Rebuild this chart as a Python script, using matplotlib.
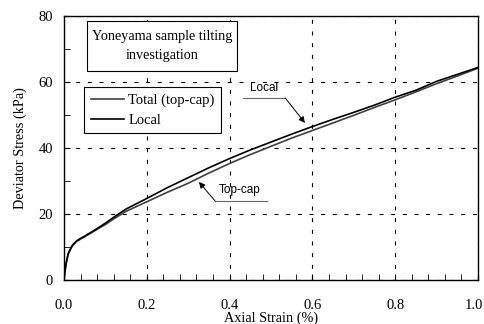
import matplotlib
matplotlib.use("Agg")
import matplotlib.pyplot as plt
from matplotlib.patches import Rectangle
from matplotlib.ticker import MultipleLocator

strain = [0, 0.002, 0.005, 0.01, 0.015, 0.02, 0.03, 0.04, 0.05, 0.07,
          0.1, 0.12, 0.15, 0.2, 0.25, 0.3, 0.35, 0.4, 0.45, 0.5,
          0.55, 0.6, 0.65, 0.7, 0.75, 0.8, 0.85, 0.9, 0.95, 1.0]
local = [0, 2.5, 5.0, 8.0, 9.3, 10.5, 11.8, 12.6, 13.3, 14.8,
         17.2, 19.0, 21.5, 24.7, 28.0, 31.0, 34.0, 36.8, 39.4, 41.8,
         44.2, 46.5, 48.7, 50.8, 53.0, 55.4, 57.5, 60.2, 62.3, 64.4]
total = [0, 2.3, 4.8, 7.8, 9.1, 10.3, 11.6, 12.4, 13.1, 14.6,
         16.8, 18.5, 20.8, 23.7, 26.6, 29.3, 32.4, 35.3, 38.0, 40.5,
         43.0, 45.3, 47.6, 49.9, 52.3, 54.6, 57.0, 59.5, 61.8, 64.2]

plt.rcParams['font.family'] = ['Liberation Serif', 'DejaVu Serif']

fig = plt.figure(figsize=(4.85, 3.24), dpi=100)
ax = fig.add_axes([0.132, 0.136, 0.8536, 0.8146])

ax.plot(strain, total, color='0.25', lw=1.2, label='Total (top-cap)')
ax.plot(strain, local, color='black', lw=1.2, label='Local')

ax.set_xlim(0, 1.0)
ax.set_ylim(0, 80)
ax.xaxis.set_major_locator(MultipleLocator(0.2))
ax.xaxis.set_minor_locator(MultipleLocator(0.04))
ax.yaxis.set_major_locator(MultipleLocator(20))
ax.yaxis.set_minor_locator(MultipleLocator(10))
# the last label (1.0) is drawn by hand, nudged left so it stays inside the figure
ax.xaxis.set_major_formatter(plt.FuncFormatter(lambda v, p: "" if v > 0.99 else f"{v:.1f}"))
ax.tick_params(which='both', direction='in', top=False, right=False, labelsize=10.5)
ax.tick_params(axis='x', which='both', length=4, pad=13.5)
ax.tick_params(axis='y', which='both', length=4, pad=8)
ax.grid(True, which='major', color='black', ls=(0, (3.6, 6.9)), lw=0.8)
for s in ax.spines.values():
    s.set_linewidth(1.0)

ax.annotate("1.0", xy=(1.0, 0), xycoords=('data', 'axes fraction'),
            xytext=(-3, -13.5), textcoords='offset points',
            ha='center', va='top', fontsize=10.5)

ax.set_xlabel("Axial Strain (%)", fontsize=10.3, labelpad=0)
ax.set_ylabel("Deviator Stress (kPa)", fontsize=10.3, labelpad=8.5)

# title box
ax.add_patch(Rectangle((0.0556, 0.792), 0.362, 0.189, transform=ax.transAxes,
                       fill=True, facecolor='white', edgecolor='black', lw=0.8, zorder=5))
ax.text(0.237, 0.886, "Yoneyama sample tilting\ninvestigation", transform=ax.transAxes,
        ha='center', va='center', fontsize=10.2, linespacing=1.6, zorder=6)

leg = ax.legend(loc='upper left', bbox_to_anchor=(0.0483, 0.731), borderaxespad=0,
                fancybox=False, edgecolor='black', framealpha=1, fontsize=10.5,
                handlelength=2.3, handletextpad=0.3, borderpad=0.45, labelspacing=0.45)
leg.get_frame().set_linewidth(0.8)

arrow = dict(arrowstyle='-|>', color='black', lw=0.7, mutation_scale=9,
             shrinkA=0, shrinkB=0)
# Local label
ax.text(0.483, 56.4, "Local", fontsize=8.5, family='Liberation Sans', ha='center', va='bottom')
ax.plot([0.432, 0.534], [55.2, 55.2], color='0.4', lw=0.8)
ax.annotate("", xy=(0.582, 47.6), xytext=(0.534, 55.2), arrowprops=arrow)
# Top-cap label
ax.text(0.425, 25.3, "Top-cap", fontsize=8.5, family='Liberation Sans', ha='center', va='bottom')
ax.plot([0.365, 0.49], [23.9, 23.9], color='0.4', lw=0.8)
ax.annotate("", xy=(0.326, 29.7), xytext=(0.365, 23.9), arrowprops=arrow)

fig.savefig("out.png", dpi=100)
